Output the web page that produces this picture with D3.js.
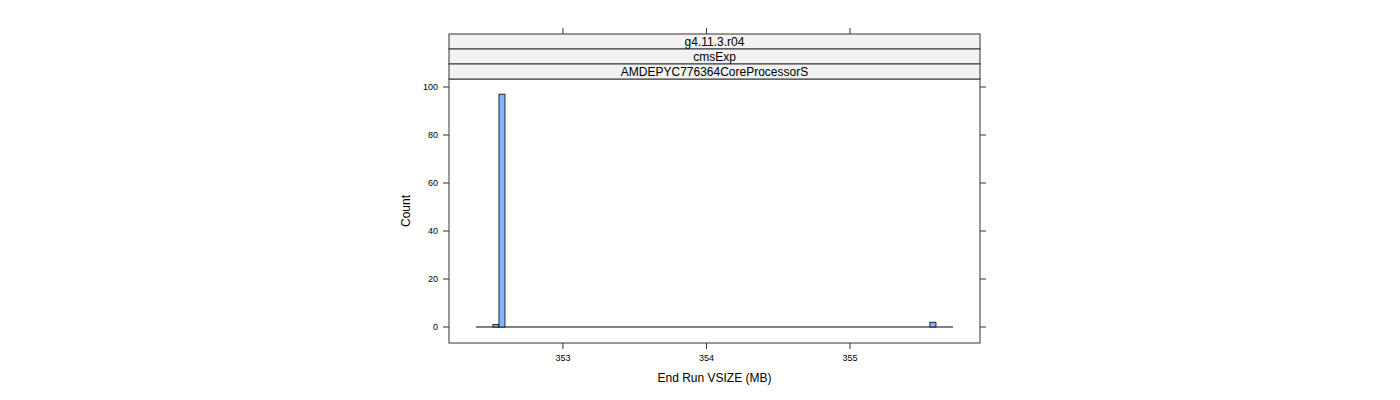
<!DOCTYPE html><html><head><meta charset="utf-8">
<script src="https://d3js.org/d3.v7.min.js"></script>
<style>body{margin:0;background:#fff}text{font-family:"Liberation Sans",Arial,sans-serif}</style></head><body>
<svg id="c" width="1400" height="400"></svg>
<script>
const binStarts=[352.512,352.554,355.557];
const binWidth=0.042;
const counts=[1,97,2];
const baselineRange=[352.394,355.718];
const xTicks=[353,354,355];
const yTicks=[0,20,40,60,80,100];
const strips=["g4.11.3.r04","cmsExp","AMDEPYC776364CoreProcessorS"];
const svg=d3.select("#c");
const L=449,R=980,T=79,B=343;
const x=d3.scaleLinear().domain([352.206,355.906]).range([L,R]);
const y=d3.scaleLinear().domain([-6.67,103.33]).range([B,T]);
const g=svg.append("g");
// baseline
g.append("line").attr("x1",x(baselineRange[0])).attr("x2",x(baselineRange[1])).attr("y1",y(0)).attr("y2",y(0)).attr("stroke","#000");
g.selectAll("rect.bar").data(counts).enter().append("rect")
 .attr("x",(d,i)=>x(binStarts[i])).attr("width",(d,i)=>x(binStarts[i]+binWidth)-x(binStarts[i]))
 .attr("y",d=>y(d)).attr("height",d=>y(0)-y(d)).attr("fill","#80b5ff").attr("stroke","#000").attr("stroke-width",0.8);
g.append("rect").attr("x",L).attr("y",T).attr("width",R-L).attr("height",B-T).attr("fill","none").attr("stroke","#333");
// strips
const sh=15;
strips.forEach((s,i)=>{
 const sy=T-sh*(3-i);
 g.append("rect").attr("x",L).attr("y",sy).attr("width",R-L).attr("height",sh).attr("fill","#f2f2f2").attr("stroke","#333");
 g.append("text").attr("x",(L+R)/2).attr("y",sy+sh/2+4).attr("text-anchor","middle").attr("font-size",12).text(s);
});
const topS=T-sh*3;
// x ticks
xTicks.forEach(t=>{
 g.append("line").attr("x1",x(t)).attr("x2",x(t)).attr("y1",B).attr("y2",B+6).attr("stroke","#333");
 g.append("line").attr("x1",x(t)).attr("x2",x(t)).attr("y1",topS).attr("y2",topS-6).attr("stroke","#333");
 g.append("text").attr("x",x(t)).attr("y",B+18).attr("text-anchor","middle").attr("font-size",9).text(t);
});
yTicks.forEach(t=>{
 g.append("line").attr("x1",L).attr("x2",L-6).attr("y1",y(t)).attr("y2",y(t)).attr("stroke","#333");
 g.append("line").attr("x1",R).attr("x2",R+6).attr("y1",y(t)).attr("y2",y(t)).attr("stroke","#333");
 g.append("text").attr("x",L-11).attr("y",y(t)+3).attr("text-anchor","end").attr("font-size",9).text(t);
});
g.append("text").attr("x",(L+R)/2).attr("y",382).attr("text-anchor","middle").attr("font-size",12).text("End Run VSIZE (MB)");
g.append("text").attr("transform",`translate(410,${(T+B)/2}) rotate(-90)`).attr("text-anchor","middle").attr("font-size",12).text("Count");
</script></body></html>
